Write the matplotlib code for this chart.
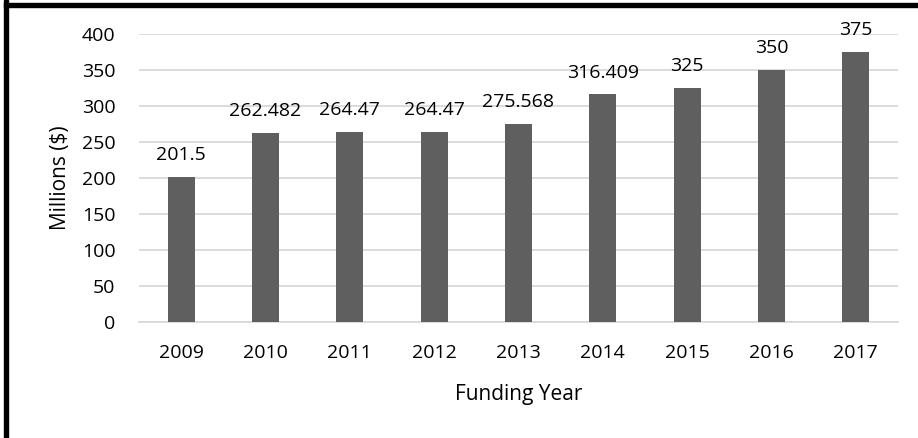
import matplotlib
matplotlib.use("Agg")
import matplotlib.pyplot as plt
from matplotlib.patches import Rectangle

years = ["2009", "2010", "2011", "2012", "2013", "2014", "2015", "2016", "2017"]
values = [201.5, 262.482, 264.47, 264.47, 275.568, 316.409, 325, 350, 375]
labels = ["201.5", "262.482", "264.47", "264.47", "275.568", "316.409", "325", "350", "375"]

plt.rcParams['font.family'] = ['Open Sans', 'DejaVu Sans']
W, H = 918, 438
fig = plt.figure(figsize=(W/100, H/100), dpi=100)
ax = fig.add_axes([139/W, 1-322/H, (898-139)/W, (322-34)/H])

x = range(len(years))
bars = ax.bar(x, values, width=0.32, color="#5f5f5f", zorder=3)
for xi, v, lab in zip(x, values, labels):
    ax.annotate(lab, (xi, v), xytext=(0, 12), textcoords="offset points",
                ha="center", va="baseline", fontsize=14, color="#000000")

ax.set_xlim(-0.5, len(years)-0.5)
ax.set_ylim(0, 400)
ax.set_yticks(range(0, 401, 50))
ax.set_xticks(list(x))
ax.set_xticklabels(years)
ax.tick_params(axis='both', length=0, labelsize=14, colors="#000000")
ax.tick_params(axis='y', pad=17)
ax.tick_params(axis='x', pad=16)
ax.grid(axis='y', color="#d9d9d9", linewidth=1.3, zorder=0)
for s in ["top", "right", "left"]:
    ax.spines[s].set_visible(False)
ax.spines["bottom"].set_color("#d9d9d9")
ax.spines["bottom"].set_linewidth(1.3)
ax.set_ylabel("Millions ($)", fontsize=15, labelpad=8)
ax.set_xlabel("Funding Year", fontsize=15, labelpad=16)

# frame fragments at top and left of the image
fig.patches.append(Rectangle((4/W, 0), 4/W, 1, transform=fig.transFigure, color="black", zorder=10))
fig.patches.append(Rectangle((4/W, 1-7/H), 1, 4/H, transform=fig.transFigure, color="black", zorder=10))

fig.savefig("out.png", dpi=100)
